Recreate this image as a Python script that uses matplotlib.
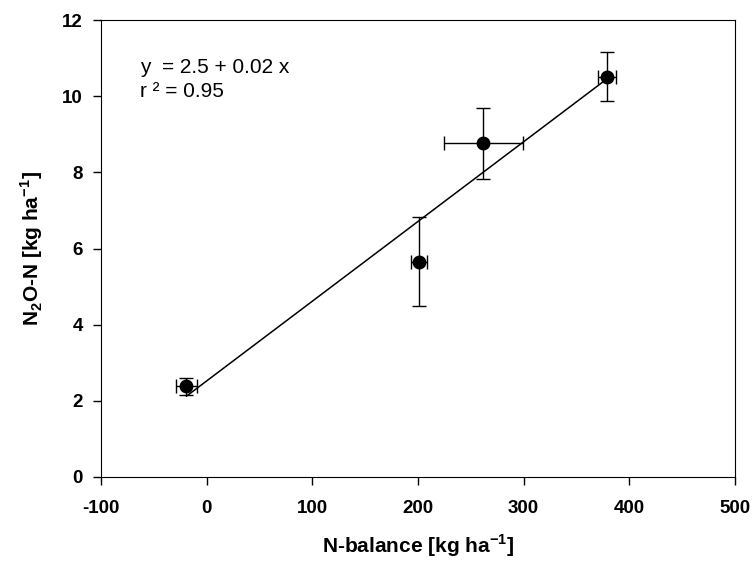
import matplotlib
matplotlib.use('Agg')
import matplotlib.pyplot as plt
import numpy as np

# data
n_balance = [-19, 201, 262, 379]
n_balance_err = [9.5, 7.5, 37, 8.5]
n2o = [2.38, 5.65, 8.77, 10.52]
n2o_err = [0.22, 1.17, 0.93, 0.65]

x_ticks = [-100, 0, 100, 200, 300, 400, 500]
y_ticks = [0, 2, 4, 6, 8, 10, 12]

plt.rcParams['font.family'] = ['Liberation Sans', 'DejaVu Sans']
plt.rcParams['axes.unicode_minus'] = False
plt.rcParams['mathtext.fontset'] = 'custom'
plt.rcParams['mathtext.bf'] = 'Liberation Sans:bold'
plt.rcParams['mathtext.rm'] = 'Liberation Sans'

fig = plt.figure(figsize=(7.53, 5.61), dpi=100)
ax = fig.add_axes([0.134, 0.150, 0.842, 0.814])

# regression line over the data range
slope, icpt = np.polyfit(n_balance, n2o, 1)
xl = np.array([min(n_balance), max(n_balance)])
ax.plot(xl, icpt + slope * xl, color='black', lw=1.1)

ax.errorbar(n_balance, n2o, xerr=n_balance_err, yerr=n2o_err, fmt='o',
            color='black', ms=9, ecolor='black', elinewidth=1.0, capsize=5, capthick=1.0)

ax.set_xlim(-100, 500)
ax.set_ylim(0, 12)
ax.set_xticks(x_ticks)
ax.set_yticks(y_ticks)
ax.tick_params(direction='out', length=6, width=1, labelsize=13.5)
ax.tick_params(axis='x', pad=11)
ax.tick_params(axis='y', pad=7)
for lab in ax.get_xticklabels() + ax.get_yticklabels():
    lab.set_fontweight('bold')

ax.set_xlabel('N-balance [kg ha$^{\\mathbf{-1}}$]', fontsize=15, fontweight='bold', labelpad=11)
ax.set_ylabel('N$_{\\mathbf{2}}$O-N [kg ha$^{\\mathbf{-1}}$]', fontsize=15, fontweight='bold', labelpad=12)

ax.text(0.062, 0.918, 'y  = 2.5 + 0.02 x\nr ² = 0.95', transform=ax.transAxes,
        fontsize=15, va='top', ha='left', linespacing=1.38)

fig.savefig('out.png', dpi=100)
